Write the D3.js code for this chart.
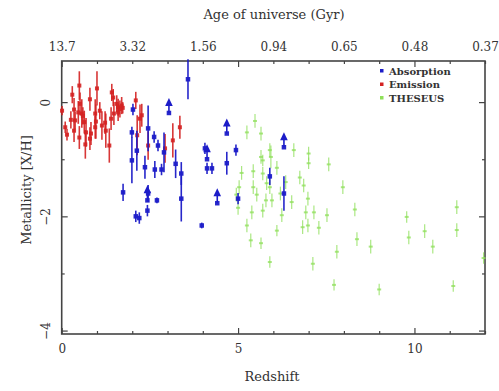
<!DOCTYPE html>
<html>
<head>
<meta charset="utf-8">
<script src="https://cdn.jsdelivr.net/npm/d3@7"></script>
<style>
  body { margin: 0; background: #fff; }
  svg text { font-family: "DejaVu Serif", "Liberation Serif", serif; fill: #333; }
</style>
</head>
<body>
<div id="chart"></div>
<script>
// --- Data ---
const topLabels = ["13.7", "3.32", "1.56", "0.94", "0.65", "0.48", "0.37"];

// Emission (red)
const emissionZ   = [0.01,0.1,0.15,0.3,0.26,0.35,0.38,0.35,0.5,0.47,0.52,0.57,0.6,0.64,0.5,0.69,0.67,0.8,0.83,0.8,0.95,0.97,1.0,0.95,1.08,1.14,1.23,1.25,1.35,1.42,1.46,1.4,1.48,1.56,1.6,1.65,1.7,1.73,1.6,2.1,2.14,2.22,2.27,2.45,2.93,3.15,3.35];
const emissionFeH = [-0.15,-0.44,-0.57,0.13,-0.31,-0.13,-0.32,-0.5,0.29,-0.18,-0.03,-0.2,-0.24,-0.35,-0.62,-0.53,-0.74,0.05,-0.55,-0.64,-0.2,-0.34,0.24,-0.44,-0.15,-0.41,-0.36,-0.5,-0.76,0.17,0.08,-0.29,-0.2,-0.03,-0.09,-0.12,-0.06,-0.1,-0.18,0.03,-0.58,-0.29,-0.23,-0.76,-0.81,-0.67,-0.44];
const emissionErr = [0.08,0.1,0.1,0.15,0.15,0.2,0.15,0.2,0.25,0.2,0.2,0.25,0.15,0.2,0.2,0.25,0.25,0.2,0.2,0.2,0.25,0.3,0.3,0.2,0.15,0.25,0.2,0.3,0.3,0.15,0.15,0.2,0.2,0.15,0.15,0.15,0.15,0.1,0.15,0.15,0.35,0.25,0.2,0.25,0.25,0.3,0.2];

// Absorption (blue); limit = 1 marks a lower limit (arrow up)
const absorptionZ     = [2.02,1.99,1.99,2.13,1.74,2.45,2.62,2.73,2.36,2.64,2.83,2.9,3.04,3.23,3.39,3.39,3.58,2.45,2.43,2.43,2.7,2.1,2.2,3.97,4.06,4.12,4.12,4.26,4.68,4.68,4.41,4.94,5.0,5.9,6.3,6.3];
const absorptionFeH   = [-0.13,-0.53,-1.02,-0.85,-1.58,-0.46,-0.61,-0.76,-1.14,-1.18,-1.18,-0.88,-0.19,-1.08,-1.25,-1.69,0.4,-1.6,-1.72,-1.9,-1.72,-2.0,-2.03,-2.16,-0.81,-1.0,-1.16,-1.16,-0.55,-1.07,-1.77,-0.84,-1.69,-1.3,-0.79,-1.6];
const absorptionErr   = [0.1,0.1,0.4,0.35,0.15,0.4,0.1,0.1,0.2,0.15,0.1,0.35,0,0.25,0.2,0.4,0.35,0.15,0,0.1,0.05,0.1,0.1,0.05,0.1,0,0.1,0.1,0,0.2,0,0.1,0.1,0.15,0,0.3];
const absorptionLimit = [0,0,0,0,0,0,0,0,0,0,0,0,1,0,0,0,0,0,1,0,0,0,0,0,0,1,0,0,1,0,1,0,0,0,1,0];

// THESEUS (green)
const theseusZ   = [5.48,5.25,5.65,6.58,7.0,7.0,7.57,5.65,5.7,5.43,5.1,5.7,5.93,6.75,6.86,5.03,5.43,5.81,5.9,5.53,5.79,5.96,6.98,6.52,5.39,5.7,6.24,6.92,7.15,7.52,7.97,8.31,5.25,6.83,6.98,7.29,5.36,5.65,8.37,7.8,5.9,7.12,7.72,8.76,9.78,9.84,10.29,10.52,11.2,11.2,9.0,11.1,11.96,5.9,6.1,6.35,6.2,4.95,6.1,5.0];
const theseusFeH = [-0.33,-0.53,-0.55,-0.84,-0.9,-1.07,-1.09,-0.96,-1.02,-1.21,-1.24,-1.25,-0.96,-1.32,-1.46,-1.49,-1.49,-1.42,-1.49,-1.62,-1.72,-1.72,-1.69,-1.75,-1.93,-1.9,-1.98,-1.93,-1.93,-1.98,-1.49,-1.88,-2.16,-2.19,-2.16,-2.2,-2.42,-2.47,-2.4,-2.62,-2.8,-2.83,-3.2,-2.53,-2.01,-2.37,-2.26,-2.53,-1.84,-2.24,-3.28,-3.22,-2.73,-0.84,-1.15,-1.4,-1.6,-1.62,-2.25,-1.85];
const theseusErr = [0.12,0.12,0.12,0.12,0.12,0.1,0.12,0.12,0.1,0.12,0.12,0.12,0.2,0.12,0.12,0.12,0.12,0.12,0.12,0.12,0.12,0.12,0.12,0.12,0.12,0.12,0.12,0.12,0.12,0.12,0.12,0.12,0.12,0.12,0.12,0.12,0.12,0.1,0.12,0.12,0.1,0.12,0.1,0.12,0.1,0.12,0.12,0.12,0.12,0.12,0.1,0.1,0.1,0.12,0.12,0.12,0.12,0.12,0.1,0.12];

const legendNames  = ["Absorption", "Emission", "THESEUS"];
const legendColors = ["#1c1cc8", "#d42222", "#8fe05a"];

// --- plot sizes ---
const width = 499, height = 391;

const svg = d3.select("#chart")
  .append("svg")
  .attr("width", width)
  .attr("height", height);

const x = d3.scaleLinear().domain([0, 12]).range([61.7, 485]);
const y = d3.scaleLinear().domain([-4.06, 0.72]).range([334, 61]);

const frameColor = "#444";

// --- axes (ticks inward) ---
const xt = d3.range(0, 13);

const bottomAxis = svg.append("g")
  .attr("transform", `translate(0, ${y.range()[0]})`)
  .call(d3.axisBottom(x).tickValues(xt).tickSizeInner(-3).tickSizeOuter(0).tickPadding(10)
    .tickFormat(d => d % 5 === 0 ? d : ""));

const topAxis = svg.append("g")
  .attr("transform", `translate(0, ${y.range()[1]})`)
  .call(d3.axisTop(x).tickValues(xt).tickSizeInner(-3).tickSizeOuter(0).tickPadding(10)
    .tickFormat(d => d % 2 === 0 ? topLabels[d / 2] : ""));

const yt = [0, -1, -2, -3, -4];
const leftAxis = svg.append("g")
  .attr("transform", `translate(${x.range()[0]}, 0)`)
  .call(d3.axisLeft(y).tickValues(yt).tickSizeInner(-3).tickSizeOuter(0)
    .tickFormat(d => d % 2 === 0 ? d3.format("d")(d) : ""));

const rightAxis = svg.append("g")
  .attr("transform", `translate(${x.range()[1]}, 0)`)
  .call(d3.axisRight(y).tickValues(yt).tickSizeInner(-3).tickSizeOuter(0).tickFormat(""));

[bottomAxis, topAxis, leftAxis, rightAxis].forEach(g => {
  g.select(".domain").remove();
  g.selectAll(".tick line").attr("stroke", frameColor).attr("stroke-width", 1.2);
  g.selectAll(".tick text").style("font-size", "12px").attr("fill", "#333");
});

// longer major ticks
bottomAxis.selectAll(".tick line").filter(d => d % 5 === 0).attr("y2", -6);
topAxis.selectAll(".tick line").filter(d => d % 5 === 0).attr("y2", 6);
leftAxis.selectAll(".tick line").filter(d => d % 2 === 0).attr("x2", 6);
rightAxis.selectAll(".tick line").filter(d => d % 2 === 0).attr("x2", -6);

// rotated y tick labels
leftAxis.selectAll(".tick text")
  .attr("x", 0).attr("y", -12).attr("dy", 0)
  .attr("text-anchor", "middle")
  .attr("transform", "rotate(-90)");

// frame
svg.append("rect")
  .attr("x", x(0)).attr("y", y(0.72))
  .attr("width", x(12) - x(0)).attr("height", y(-4.06) - y(0.72))
  .attr("fill", "none").attr("stroke", frameColor).attr("stroke-width", 1.6);

// --- axis titles ---
svg.append("text")
  .attr("x", 274).attr("y", 19)
  .attr("text-anchor", "middle")
  .style("font-size", "13px")
  .text("Age of universe (Gyr)");

svg.append("text")
  .attr("x", 272).attr("y", 381)
  .attr("text-anchor", "middle")
  .style("font-size", "13px")
  .text("Redshift");

svg.append("text")
  .attr("transform", "translate(31, 190) rotate(-90)")
  .attr("text-anchor", "middle")
  .style("font-size", "13px")
  .text("Metallicity [X/H]");

// --- data marks ---
const plot = svg.append("g").attr("class", "points");

function drawSeries(zs, fehs, errs, color, opts) {
  const g = plot.append("g");
  const data = zs.map((z, i) => ({ z: z, feh: fehs[i], err: errs[i], lim: opts.limits ? opts.limits[i] : 0 }));

  g.selectAll("line.err")
    .data(data.filter(d => d.err > 0))
    .enter().append("line")
    .attr("class", "err")
    .attr("x1", d => x(d.z)).attr("x2", d => x(d.z))
    .attr("y1", d => y(d.feh - d.err)).attr("y2", d => y(d.feh + d.err))
    .attr("stroke", color)
    .attr("stroke-width", opts.lw)
    .attr("opacity", opts.opacity);

  if (opts.cross) {
    g.selectAll("line.cross")
      .data(data)
      .enter().append("line")
      .attr("class", "cross")
      .attr("x1", d => x(d.z) - 2).attr("x2", d => x(d.z) + 2)
      .attr("y1", d => y(d.feh)).attr("y2", d => y(d.feh))
      .attr("stroke", color).attr("stroke-width", 2)
      .attr("opacity", opts.opacity);
  }

  // lower limits: arrow pointing up
  const lims = data.filter(d => d.lim);
  g.selectAll("line.lim")
    .data(lims)
    .enter().append("line")
    .attr("class", "lim")
    .attr("x1", d => x(d.z)).attr("x2", d => x(d.z))
    .attr("y1", d => y(d.feh)).attr("y2", d => y(d.feh) - 8)
    .attr("stroke", color).attr("stroke-width", 1.6);
  g.selectAll("path.lim")
    .data(lims)
    .enter().append("path")
    .attr("class", "lim")
    .attr("d", d => {
      const cx = x(d.z), cy = y(d.feh);
      return `M${cx - 3.8},${cy - 7} L${cx + 3.8},${cy - 7} L${cx},${cy - 15} Z`;
    })
    .attr("fill", color);

  g.selectAll("rect.pt")
    .data(data)
    .enter().append("rect")
    .attr("class", "pt")
    .attr("x", d => x(d.z) - opts.size / 2)
    .attr("y", d => y(d.feh) - opts.size / 2)
    .attr("width", opts.size).attr("height", opts.size)
    .attr("fill", color)
    .attr("opacity", opts.opacity);
}

drawSeries(theseusZ, theseusFeH, theseusErr, legendColors[2], { lw: 1.2, size: 0, opacity: 0.75, cross: true });
drawSeries(emissionZ, emissionFeH, emissionErr, legendColors[1], { lw: 1.6, size: 4, opacity: 0.9 });
drawSeries(absorptionZ, absorptionFeH, absorptionErr, legendColors[0], { lw: 1.6, size: 4.5, opacity: 0.95, limits: absorptionLimit });

// --- legend ---
const legend = svg.append("g").attr("class", "legend");
legendNames.forEach((name, i) => {
  const ly = 71 + i * 13.5;
  legend.append("rect")
    .attr("x", 380).attr("y", ly - 2)
    .attr("width", 3.5).attr("height", 3.5)
    .attr("fill", legendColors[i]);
  legend.append("text")
    .attr("x", 389).attr("y", ly + 3.5)
    .style("font-size", "10px")
    .style("font-weight", "bold")
    .text(name);
});
</script>
</body>
</html>
